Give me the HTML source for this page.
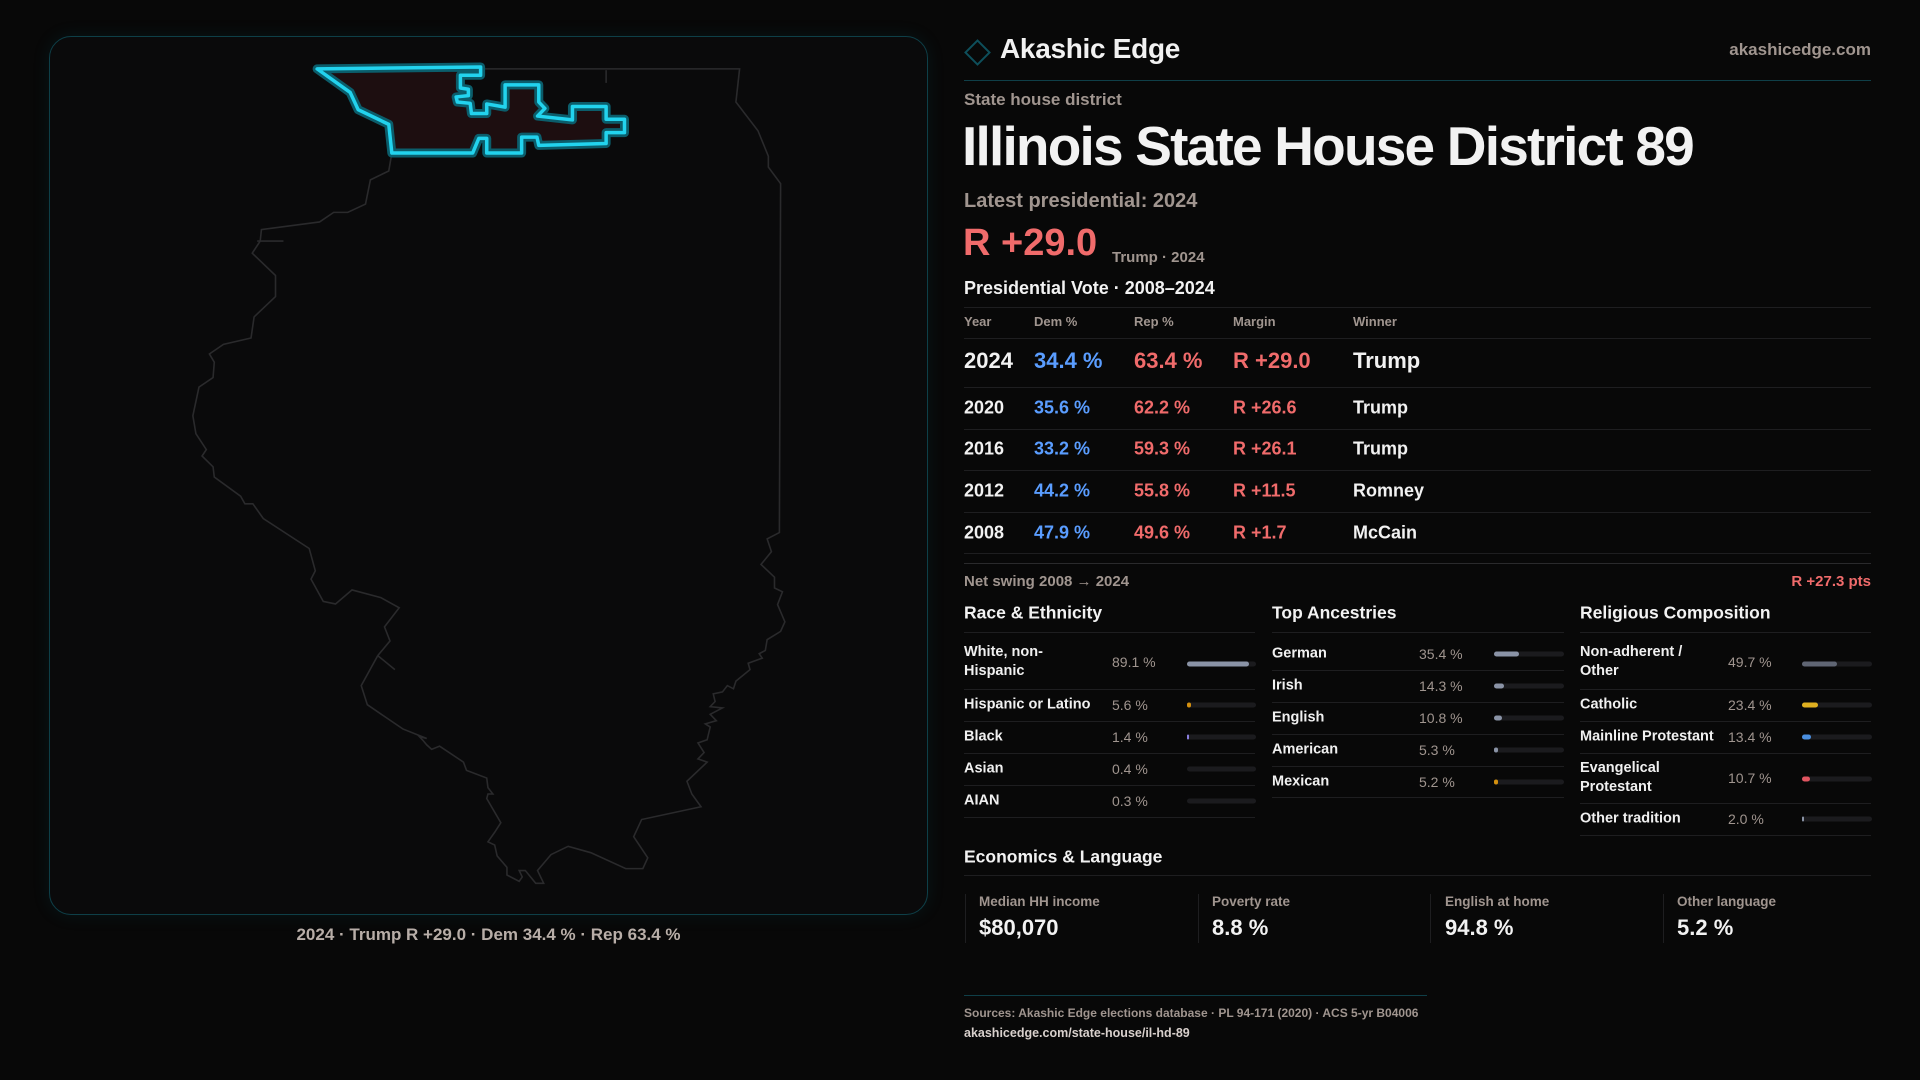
<!DOCTYPE html>
<html><head><meta charset="utf-8"><style>
*{margin:0;padding:0;box-sizing:border-box}
body{width:1920px;height:1080px;background:#080808;font-family:"Liberation Sans",sans-serif;color:#f2f2f2;position:relative;overflow:hidden}
.a{position:absolute;white-space:nowrap}
.g{color:#a0958f}
.mapbox{position:absolute;left:49px;top:36px;width:879px;height:879px;border:1px solid #0e3f48;border-radius:22px;background:#0a0a0b;box-shadow:0 0 18px rgba(20,120,140,.12)}
.ln{position:absolute;height:1px;background:#1e1e20}
.row{position:absolute;font-size:18px;font-weight:bold;transform:translateY(-50%)}
.b{color:#5a9dff}.r{color:#f06b6b}
.lab{position:absolute;font-size:14.5px;font-weight:bold;color:#f0f0f0;transform:translateY(-50%);line-height:19px}
.val{position:absolute;font-size:14px;color:#a0958f;transform:translateY(-50%)}
.trk{position:absolute;height:5px;border-radius:3px;background:#1b1b1e;transform:translateY(-50%)}
.trk i{display:block;height:5px;border-radius:3px}
.h{position:absolute;font-size:17.5px;font-weight:bold;transform:translateY(-50%)}
</style></head><body>
<div class="mapbox"></div>
<svg class="a" style="left:0;top:0" width="960" height="1000" viewBox="0 0 1568 1568" preserveAspectRatio="none">
<polyline fill="none" stroke="#2a2a2c" stroke-width="1.6" vector-effect="non-scaling-stroke" points="518,108 1208,108 1202,160 1238,205 1255,245 1255,262 1275,288 1273,835 1253,845 1260,865 1243,885 1265,905 1265,922 1278,928 1270,948 1282,975 1275,990 1253,1003 1250,1020 1240,1025 1245,1032 1222,1040 1225,1050 1202,1068 1198,1080 1188,1075 1180,1085 1165,1088 1168,1100 1160,1108 1180,1110 1160,1120 1170,1130 1152,1135 1160,1140 1155,1160 1140,1165 1150,1180 1140,1190 1155,1195 1122,1225 1130,1245 1145,1265 1048,1285 1035,1312 1058,1345 1050,1362 1022,1362 965,1337 928,1327 900,1340 878,1365 888,1385 875,1385 858,1365 848,1365 853,1375 848,1382 828,1372 828,1360 812,1342 808,1325 797,1320 808,1305 818,1290 795,1252 797,1245 805,1245 797,1235 795,1220 762,1208 757,1195 718,1170 705,1175 697,1168 690,1160 685,1155 697,1158 658,1143 600,1105 590,1075 617,1028 637,1005 628,983 652,953 622,937 575,925 548,947 528,943 508,908 515,895 505,860 430,813 413,790 400,790 393,778 350,748 348,732 330,715 337,705 320,680 315,652 325,607 348,592 350,568 342,555 365,540 410,530 415,497 450,465 450,432 412,397 425,378 427,360 522,348 545,333 568,333 597,320 605,282 635,268 640,240"/>
<g stroke="#2a2a2c" stroke-width="1.6" vector-effect="non-scaling-stroke"><line x1="990" y1="110" x2="990" y2="130" vector-effect="non-scaling-stroke"/><line x1="420" y1="378" x2="463" y2="378" vector-effect="non-scaling-stroke"/><line x1="617" y1="1028" x2="645" y2="1050" vector-effect="non-scaling-stroke"/></g>
<polygon fill="#1d0e10" stroke="#0b5d6b" stroke-width="9" stroke-linejoin="round" vector-effect="non-scaling-stroke" points="518,108 785,105 785,118 752,118 752,138 765,140 765,150 745,152 747,160 768,162 770,178 795,178 795,163 825,168 825,133 880,133 880,160 890,170 878,182 935,188 935,167 990,167 990,187 1020,187 1020,208 990,208 990,225 880,228 877,215 852,215 852,240 795,240 795,217 782,217 772,240 640,240 635,195 585,172 572,145"/>
<polygon fill="none" stroke="#22d3ee" stroke-width="3.5" stroke-linejoin="round" vector-effect="non-scaling-stroke" points="518,108 785,105 785,118 752,118 752,138 765,140 765,150 745,152 747,160 768,162 770,178 795,178 795,163 825,168 825,133 880,133 880,160 890,170 878,182 935,188 935,167 990,167 990,187 1020,187 1020,208 990,208 990,225 880,228 877,215 852,215 852,240 795,240 795,217 782,217 772,240 640,240 635,195 585,172 572,145"/>
</svg>
<div class="a g" style="left:0;width:977px;text-align:center;top:925px;font-size:17px;font-weight:bold;color:#b8aea8">2024 · Trump R +29.0 · Dem 34.4 % · Rep 63.4 %</div>

<div class="a" style="left:968px;top:43px;width:19px;height:19px;border:2px solid #0e4f5b;transform:rotate(45deg)"></div>
<div class="a" style="left:1000px;top:33px;font-size:28px;font-weight:bold;letter-spacing:-0.3px">Akashic Edge</div>
<div class="a g" style="right:49px;top:40px;font-size:17px;font-weight:bold">akashicedge.com</div>
<div class="ln" style="left:964px;width:907px;top:80px;background:#0f3f48"></div>
<div class="a g" style="left:964px;top:90px;font-size:17px;font-weight:bold">State house district</div>
<div class="a" style="left:962px;top:114px;font-size:55px;font-weight:bold;letter-spacing:-1.8px">Illinois State House District 89</div>
<div class="a g" style="left:964px;top:190px;font-size:20px;font-weight:bold">Latest presidential: 2024</div>
<div class="a r" style="left:963px;top:222px;font-size:38px;font-weight:bold">R +29.0</div>
<div class="a g" style="left:1112px;top:249px;font-size:15px;font-weight:bold">Trump · 2024</div>
<div class="a" style="left:964px;top:278px;font-size:18px;font-weight:bold">Presidential Vote · 2008–2024</div>
<div class="ln" style="left:964px;width:907px;top:307px"></div>
<div class="a g" style="left:964px;top:314px;font-size:13px;font-weight:bold">Year</div>
<div class="a g" style="left:1034px;top:314px;font-size:13px;font-weight:bold">Dem %</div>
<div class="a g" style="left:1134px;top:314px;font-size:13px;font-weight:bold">Rep %</div>
<div class="a g" style="left:1233px;top:314px;font-size:13px;font-weight:bold">Margin</div>
<div class="a g" style="left:1353px;top:314px;font-size:13px;font-weight:bold">Winner</div>
<div class="ln" style="left:964px;width:907px;top:338px"></div>
<div class="row" style="left:964px;top:361px;font-size:22px">2024</div><div class="row b" style="left:1034px;top:361px;font-size:22px">34.4 %</div><div class="row r" style="left:1134px;top:361px;font-size:22px">63.4 %</div><div class="row r" style="left:1233px;top:361px;font-size:22px">R +29.0</div><div class="row" style="left:1353px;top:361px;font-size:22px">Trump</div>
<div class="ln" style="left:964px;width:907px;top:387px"></div>
<div class="row" style="left:964px;top:408px">2020</div><div class="row b" style="left:1034px;top:408px">35.6 %</div><div class="row r" style="left:1134px;top:408px">62.2 %</div><div class="row r" style="left:1233px;top:408px">R +26.6</div><div class="row" style="left:1353px;top:408px">Trump</div>
<div class="ln" style="left:964px;width:907px;top:429px"></div>
<div class="row" style="left:964px;top:449px">2016</div><div class="row b" style="left:1034px;top:449px">33.2 %</div><div class="row r" style="left:1134px;top:449px">59.3 %</div><div class="row r" style="left:1233px;top:449px">R +26.1</div><div class="row" style="left:1353px;top:449px">Trump</div>
<div class="ln" style="left:964px;width:907px;top:470px"></div>
<div class="row" style="left:964px;top:491px">2012</div><div class="row b" style="left:1034px;top:491px">44.2 %</div><div class="row r" style="left:1134px;top:491px">55.8 %</div><div class="row r" style="left:1233px;top:491px">R +11.5</div><div class="row" style="left:1353px;top:491px">Romney</div>
<div class="ln" style="left:964px;width:907px;top:512px"></div>
<div class="row" style="left:964px;top:533px">2008</div><div class="row b" style="left:1034px;top:533px">47.9 %</div><div class="row r" style="left:1134px;top:533px">49.6 %</div><div class="row r" style="left:1233px;top:533px">R +1.7</div><div class="row" style="left:1353px;top:533px">McCain</div>
<div class="ln" style="left:964px;width:907px;top:553px"></div>
<div class="ln" style="left:964px;width:907px;top:563px;background:#2a2a2c"></div>
<div class="a g" style="left:964px;top:573px;font-size:15px;font-weight:bold">Net swing 2008 → 2024</div>
<div class="a r" style="right:49px;top:573px;font-size:15px;font-weight:bold">R +27.3 pts</div>

<div class="h" style="left:964px;top:613px">Race &amp; Ethnicity</div>
<div class="h" style="left:1272px;top:613px">Top Ancestries</div>
<div class="h" style="left:1580px;top:613px">Religious Composition</div>
<div class="ln" style="left:964px;width:291px;top:632px"></div><div class="ln" style="left:1272px;width:292px;top:632px"></div><div class="ln" style="left:1580px;width:291px;top:632px"></div>

<!-- race -->
<div class="lab" style="left:964px;top:662px">White, non-<br>Hispanic</div><div class="val" style="left:1112px;top:662px">89.1 %</div><div class="trk" style="left:1187px;width:69px;top:664px"><i style="width:62px;background:#8a93a6"></i></div>
<div class="ln" style="left:964px;width:291px;top:689px"></div>
<div class="lab" style="left:964px;top:705px">Hispanic or Latino</div><div class="val" style="left:1112px;top:705px">5.6 %</div><div class="trk" style="left:1187px;width:69px;top:705px"><i style="width:4px;background:#d4900f"></i></div>
<div class="ln" style="left:964px;width:291px;top:721px"></div>
<div class="lab" style="left:964px;top:737px">Black</div><div class="val" style="left:1112px;top:737px">1.4 %</div><div class="trk" style="left:1187px;width:69px;top:737px"><i style="width:1.5px;background:#8b7fe0"></i></div>
<div class="ln" style="left:964px;width:291px;top:753px"></div>
<div class="lab" style="left:964px;top:769px">Asian</div><div class="val" style="left:1112px;top:769px">0.4 %</div><div class="trk" style="left:1187px;width:69px;top:769px"></div>
<div class="ln" style="left:964px;width:291px;top:785px"></div>
<div class="lab" style="left:964px;top:801px">AIAN</div><div class="val" style="left:1112px;top:801px">0.3 %</div><div class="trk" style="left:1187px;width:69px;top:801px"></div>
<div class="ln" style="left:964px;width:291px;top:817px"></div>

<!-- ancestries -->
<div class="lab" style="left:1272px;top:654px">German</div><div class="val" style="left:1419px;top:654px">35.4 %</div><div class="trk" style="left:1494px;width:70px;top:654px"><i style="width:25px;background:#8a93a6"></i></div>
<div class="ln" style="left:1272px;width:292px;top:670px"></div>
<div class="lab" style="left:1272px;top:686px">Irish</div><div class="val" style="left:1419px;top:686px">14.3 %</div><div class="trk" style="left:1494px;width:70px;top:686px"><i style="width:10px;background:#8a93a6"></i></div>
<div class="ln" style="left:1272px;width:292px;top:702px"></div>
<div class="lab" style="left:1272px;top:718px">English</div><div class="val" style="left:1419px;top:718px">10.8 %</div><div class="trk" style="left:1494px;width:70px;top:718px"><i style="width:8px;background:#8a93a6"></i></div>
<div class="ln" style="left:1272px;width:292px;top:734px"></div>
<div class="lab" style="left:1272px;top:750px">American</div><div class="val" style="left:1419px;top:750px">5.3 %</div><div class="trk" style="left:1494px;width:70px;top:750px"><i style="width:4px;background:#8a93a6"></i></div>
<div class="ln" style="left:1272px;width:292px;top:766px"></div>
<div class="lab" style="left:1272px;top:782px">Mexican</div><div class="val" style="left:1419px;top:782px">5.2 %</div><div class="trk" style="left:1494px;width:70px;top:782px"><i style="width:4px;background:#d4900f"></i></div>
<div class="ln" style="left:1272px;width:292px;top:797px"></div>

<!-- religion -->
<div class="lab" style="left:1580px;top:662px">Non-adherent /<br>Other</div><div class="val" style="left:1728px;top:662px">49.7 %</div><div class="trk" style="left:1802px;width:70px;top:664px"><i style="width:35px;background:#5f6573"></i></div>
<div class="ln" style="left:1580px;width:291px;top:689px"></div>
<div class="lab" style="left:1580px;top:705px">Catholic</div><div class="val" style="left:1728px;top:705px">23.4 %</div><div class="trk" style="left:1802px;width:70px;top:705px"><i style="width:16px;background:#e0b020"></i></div>
<div class="ln" style="left:1580px;width:291px;top:721px"></div>
<div class="lab" style="left:1580px;top:737px">Mainline Protestant</div><div class="val" style="left:1728px;top:737px">13.4 %</div><div class="trk" style="left:1802px;width:70px;top:737px"><i style="width:9px;background:#4a8fe0"></i></div>
<div class="ln" style="left:1580px;width:291px;top:753px"></div>
<div class="lab" style="left:1580px;top:778px">Evangelical<br>Protestant</div><div class="val" style="left:1728px;top:778px">10.7 %</div><div class="trk" style="left:1802px;width:70px;top:779px"><i style="width:8px;background:#e05560"></i></div>
<div class="ln" style="left:1580px;width:291px;top:803px"></div>
<div class="lab" style="left:1580px;top:819px">Other tradition</div><div class="val" style="left:1728px;top:819px">2.0 %</div><div class="trk" style="left:1802px;width:70px;top:819px"><i style="width:1.5px;background:#8a93a6"></i></div>
<div class="ln" style="left:1580px;width:291px;top:835px"></div>

<div class="h" style="left:964px;top:857px">Economics &amp; Language</div>
<div class="ln" style="left:964px;width:907px;top:875px"></div>
<div class="a" style="left:965px;top:894px;width:1px;height:49px;background:#1e1e20"></div>
<div class="a" style="left:1198px;top:894px;width:1px;height:49px;background:#1e1e20"></div>
<div class="a" style="left:1430px;top:894px;width:1px;height:49px;background:#1e1e20"></div>
<div class="a" style="left:1663px;top:894px;width:1px;height:49px;background:#1e1e20"></div>
<div class="a g" style="left:979px;top:894px;font-size:13.5px;font-weight:bold">Median HH income</div>
<div class="a g" style="left:1212px;top:894px;font-size:13.5px;font-weight:bold">Poverty rate</div>
<div class="a g" style="left:1445px;top:894px;font-size:13.5px;font-weight:bold">English at home</div>
<div class="a g" style="left:1677px;top:894px;font-size:13.5px;font-weight:bold">Other language</div>
<div class="a" style="left:979px;top:915px;font-size:22px;font-weight:bold">$80,070</div>
<div class="a" style="left:1212px;top:915px;font-size:22px;font-weight:bold">8.8 %</div>
<div class="a" style="left:1445px;top:915px;font-size:22px;font-weight:bold">94.8 %</div>
<div class="a" style="left:1677px;top:915px;font-size:22px;font-weight:bold">5.2 %</div>

<div class="ln" style="left:964px;width:463px;top:995px;background:#0f3f48"></div>
<div class="a g" style="left:964px;top:1006px;font-size:12px;font-weight:bold">Sources: Akashic Edge elections database · PL 94-171 (2020) · ACS 5-yr B04006</div>
<div class="a" style="left:964px;top:1026px;font-size:12.5px;font-weight:bold;color:#d8d0cc">akashicedge.com/state-house/il-hd-89</div>
</body></html>
